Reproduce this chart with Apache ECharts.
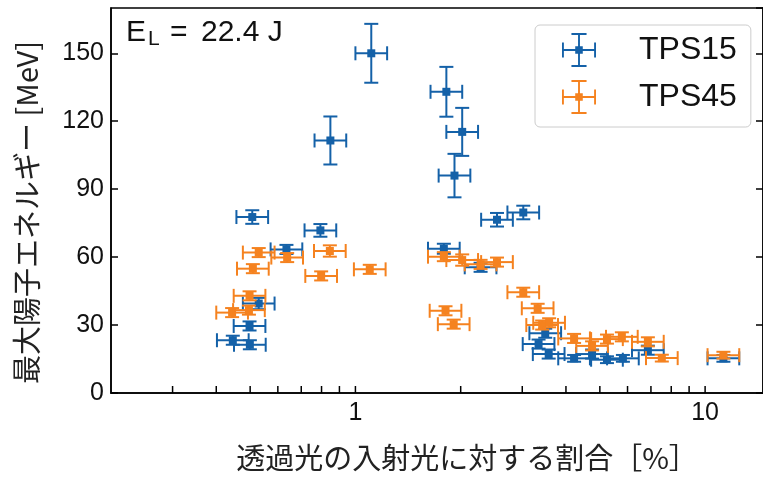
<!DOCTYPE html>
<html>
<head>
<meta charset="utf-8">
<script src="https://cdn.jsdelivr.net/npm/echarts@6/dist/echarts.min.js"></script>
<style>html,body{margin:0;padding:0;background:#fff;}#c{width:763px;height:477px;}</style>
</head>
<body>
<div id="c"></div>
<script>
// ---- data ----
const tps15X    = [0.446, 0.499, 0.498, 0.529, 0.507, 0.635, 0.794, 0.848, 1.11, 1.79, 1.82, 1.92, 2.02, 2.28, 2.54, 3.02, 3.34, 3.49, 3.57, 4.22, 4.75, 5.24, 5.82, 6.86, 11.28];
const tps15Y    = [23.3, 21.3, 29.6, 39.5, 77.7, 63.4, 71.8, 111.5, 150, 63.7, 133, 96, 115.3, 55.5, 76.5, 79.7, 21.6, 26.4, 17.2, 15.3, 17.2, 14.7, 15.3, 18.9, 15.3];
const tps15YErr = [2, 2, 2, 2.5, 3, 2, 2.8, 10.6, 13, 2.2, 11, 9.6, 10.6, 2, 3, 3, 2, 2, 2, 1.5, 2, 1.5, 1.5, 2, 1.5];

const tps45X    = [0.444, 0.496, 0.498, 0.509, 0.529, 0.638, 0.798, 0.845, 1.099, 1.79, 1.81, 1.91, 2.02, 2.28, 2.54, 3.02, 3.32, 3.42, 3.58, 4.22, 4.75, 5.24, 5.78, 6.86, 7.52, 11.28];
const tps45Y    = [35.5, 36.6, 42.9, 54.9, 62, 59.8, 51.7, 62.7, 54.6, 60.2, 36.3, 30.4, 58.7, 56.8, 57.8, 44.5, 37.4, 30.0, 31.0, 24.1, 20.8, 23.8, 24.8, 22.6, 15.4, 16.7];
const tps45YErr = [2, 2, 2, 2, 2, 2, 2, 2.5, 2, 2, 2, 2, 2.5, 2, 2, 2, 2, 2, 2, 2, 2, 2, 2, 2, 1.5, 1.5];

const xRelErr = 0.11;               // relative horizontal error
const xTickValues = [0.3, 0.4, 0.5, 0.6, 0.7, 0.8, 0.9, 1, 2, 3, 4, 5, 6, 7, 8, 9, 10];
const xLabelValues = [1, 10];
const yTicks = [0, 30, 60, 90, 120, 150];
const seriesNames = ['TPS15', 'TPS45'];
const colors = ['#1461a8', '#f5821f'];

const latin = '"Liberation Sans", Arial, sans-serif';
const cjk = '"Noto Sans CJK JP", "Noto Sans", sans-serif';

const chart = echarts.init(document.getElementById('c'), null, {renderer: 'canvas'});

function errRender(color) {
  return function (params, api) {
    const x = api.value(0), y = api.value(1), e = api.value(2);
    const c = api.coord([x, y]);
    const l = api.coord([x / (1 + xRelErr), y]);
    const r = api.coord([x * (1 + xRelErr), y]);
    const t = api.coord([x, y + e]);
    const b = api.coord([x, y - e]);
    const cap = 7, ms = 8;
    const st = {stroke: color, lineWidth: 2};
    const ln = (x1, y1, x2, y2) => ({type: 'line', shape: {x1, y1, x2, y2}, style: st});
    return {
      type: 'group',
      children: [
        ln(l[0], c[1], r[0], c[1]),
        ln(l[0], c[1] - cap, l[0], c[1] + cap),
        ln(r[0], c[1] - cap, r[0], c[1] + cap),
        ln(c[0], t[1], c[0], b[1]),
        ln(c[0] - cap, t[1], c[0] + cap, t[1]),
        ln(c[0] - cap, b[1], c[0] + cap, b[1]),
        {type: 'rect', shape: {x: c[0] - ms / 2, y: c[1] - ms / 2, width: ms, height: ms}, style: {fill: color}}
      ]
    };
  };
}

const iconPath = 'path://M0 17H36V19H0Z M0 10H2V26H0Z M34 10H36V26H34Z M17 0H19V36H17Z M10 0H26V2H10Z M10 34H26V36H10Z M14 14H22V22H14Z';

const option = {
  animation: false,
  backgroundColor: '#fff',
  grid: {left: 111, right: 0, top: 8, bottom: 83, show: true, borderColor: '#000', borderWidth: 1.5, containLabel: false},
  legend: {
    left: 535, top: 25, orient: 'vertical',
    padding: [8, 14, 13, 27], itemGap: 13,
    itemWidth: 36, itemHeight: 34,
    backgroundColor: '#fff', borderColor: '#cccccc', borderWidth: 1, borderRadius: 5,
    textStyle: {fontFamily: latin, fontSize: 32, color: '#111', padding: [0, 0, 0, 37], lineHeight: 34},
    data: seriesNames.map(n => ({name: n, icon: iconPath}))
  },
  xAxis: {
    type: 'log', logBase: 10, min: 0.2, max: 14.64,
    name: '透過光の入射光に対する割合［%］', nameLocation: 'middle', nameGap: 50,
    nameTextStyle: {fontFamily: cjk, fontSize: 29, color: '#222', padding: [0, 0, 0, 60]},
    axisLine: {show: true, lineStyle: {color: '#000', width: 1.5}},
    axisTick: {show: false},
    splitLine: {show: false},
    axisLabel: {
      fontFamily: latin, fontSize: 25, color: '#111', margin: 8,
      showMinLabel: false, showMaxLabel: false,
      formatter: v => xLabelValues.some(t => Math.abs(v - t) < 1e-6 * t) ? String(Math.round(v)) : ''
    }
  },
  yAxis: [{
    type: 'value', min: 0, max: 170, interval: 30, position: 'left',
    name: '最大陽子エネルギー [MeV]', nameLocation: 'middle', nameGap: 70, nameRotate: 90,
    nameTextStyle: {fontFamily: cjk, fontSize: 29, color: '#222', padding: [0, 24, 0, 0]},
    axisLine: {show: true, lineStyle: {color: '#000', width: 1.5}},
    axisTick: {show: true, inside: true, length: 7, lineStyle: {color: '#000', width: 1.5}},
    splitLine: {show: false},
    axisLabel: {fontFamily: latin, fontSize: 25, color: '#111', margin: 7,
      showMaxLabel: false,
      formatter: v => yTicks.indexOf(v) >= 0 ? String(v) : ''}
  }, {
    type: 'value', min: 0, max: 170, interval: 30, position: 'right',
    axisLine: {show: true, lineStyle: {color: '#000', width: 1.5}},
    axisTick: {show: true, inside: true, length: 7, lineStyle: {color: '#000', width: 1.5}},
    axisLabel: {show: false}, splitLine: {show: false}
  }],
  graphic: [
    {type: 'text', style: {text: 'E', x: 126, y: 32.5, font: '30px ' + latin, fill: '#111', verticalAlign: 'middle'}},
    {type: 'text', style: {text: 'L', x: 148, y: 39.5, font: '21px ' + latin, fill: '#111', verticalAlign: 'middle'}},
    {type: 'text', style: {text: '=', x: 170, y: 32.5, font: '30px ' + latin, fill: '#111', verticalAlign: 'middle'}},
    {type: 'text', style: {text: '22.4 J', x: 201, y: 32.5, font: '30px ' + latin, fill: '#111', verticalAlign: 'middle'}}
  ],
  series: [
    {
      name: 'tick', type: 'custom', silent: true, legendHoverLink: false, z: 3,
      data: xTickValues.map(v => [v, 0]),
      encode: {x: 0, y: 1},
      renderItem: function (params, api) {
        const p = api.coord([api.value(0), 0]);
        return {type: 'line', shape: {x1: p[0], y1: p[1], x2: p[0], y2: p[1] - 7}, style: {stroke: '#000', lineWidth: 1.5}};
      }
    },
    {
      name: seriesNames[0], type: 'custom', itemStyle: {color: colors[0]},
      data: tps15X.map((x, i) => [x, tps15Y[i], tps15YErr[i]]),
      encode: {x: 0, y: 1},
      renderItem: errRender(colors[0])
    },
    {
      name: seriesNames[1], type: 'custom', itemStyle: {color: colors[1]},
      data: tps45X.map((x, i) => [x, tps45Y[i], tps45YErr[i]]),
      encode: {x: 0, y: 1},
      renderItem: errRender(colors[1])
    }
  ]
};
chart.setOption(option);
</script>
</body>
</html>
